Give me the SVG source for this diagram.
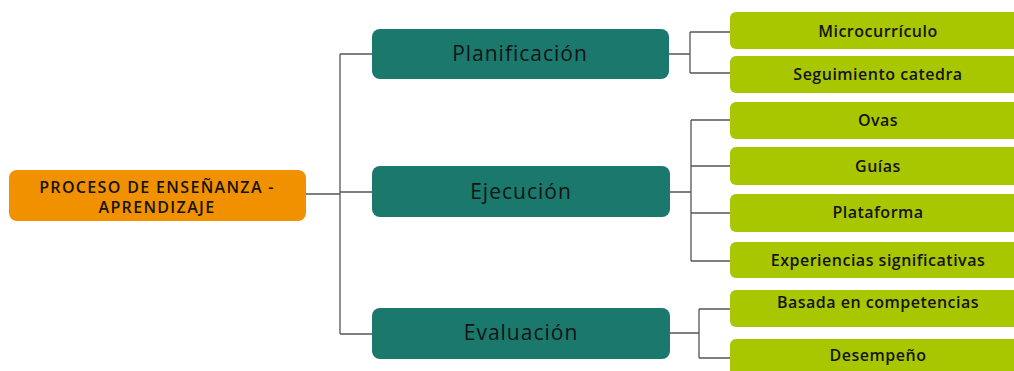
<svg xmlns="http://www.w3.org/2000/svg" width="1014" height="371" viewBox="0 0 1014 371">
<style>
.root{fill:#F19100;}
.mid{fill:#1A786C;}
.leaf{fill:#A9C700;}
.t{font-family:"Open Sans","Liberation Sans",sans-serif;fill:#141414;text-anchor:middle;}
.tr{font-size:16px;font-weight:600;letter-spacing:1.35px;}
.tm{font-size:21px;font-weight:500;letter-spacing:1px;}
.tl{font-size:16px;font-weight:600;letter-spacing:0.5px;}
.c{fill:none;stroke:#555;stroke-width:1.3;}
</style>
<rect width="1014" height="371" fill="#fff"/>
<g id="connectors">
<path class="c" d="M306 194H340M340 54V334M340 54H372M340 192H372M340 334H372"/>
<path class="c" d="M669 54H690M690 32V73M690 32H730M690 73H730"/>
<path class="c" d="M670 192H691M691 120V261M691 120H730M691 166H730M691 213H730M691 261H730"/>
<path class="c" d="M670 333H699M699 309V358M699 309H730M699 358H730"/>
</g>
<g id="root">
<rect class="root" x="9" y="170" width="297" height="51" rx="8"/>
<text class="t tr" x="157" y="193">PROCESO DE ENSEÑANZA -</text>
<text class="t tr" x="157" y="213">APRENDIZAJE</text>
</g>
<g id="planificacion">
<rect class="mid" x="372" y="29" width="297" height="50" rx="8"/>
<text class="t tm" x="520" y="61">Planificación</text>
</g>
<g id="ejecucion">
<rect class="mid" x="372" y="166" width="298" height="51" rx="8"/>
<text class="t tm" x="521" y="199">Ejecución</text>
</g>
<g id="evaluacion">
<rect class="mid" x="372" y="308" width="298" height="51" rx="8"/>
<text class="t tm" x="521" y="340">Evaluación</text>
</g>
<g id="microcurriculo">
<rect class="leaf" x="730" y="12" width="300" height="37" rx="6"/>
<text class="t tl" x="878" y="37">Microcurrículo</text>
</g>
<g id="seguimiento">
<rect class="leaf" x="730" y="56" width="300" height="37" rx="6"/>
<text class="t tl" x="878" y="80">Seguimiento catedra</text>
</g>
<g id="ovas">
<rect class="leaf" x="730" y="102" width="300" height="37" rx="6"/>
<text class="t tl" x="878" y="126">Ovas</text>
</g>
<g id="guias">
<rect class="leaf" x="730" y="147" width="300" height="38" rx="6"/>
<text class="t tl" x="878" y="172">Guías</text>
</g>
<g id="plataforma">
<rect class="leaf" x="730" y="194" width="300" height="38" rx="6"/>
<text class="t tl" x="878" y="218">Plataforma</text>
</g>
<g id="experiencias">
<rect class="leaf" x="730" y="242" width="300" height="36" rx="6"/>
<text class="t tl" x="878" y="266">Experiencias significativas</text>
</g>
<g id="basada">
<rect class="leaf" x="730" y="290" width="300" height="37" rx="6"/>
<text class="t tl" x="878" y="308">Basada en competencias</text>
</g>
<g id="desempeno">
<rect class="leaf" x="730" y="339" width="300" height="40" rx="6"/>
<text class="t tl" x="878" y="361">Desempeño</text>
</g>
</svg>
